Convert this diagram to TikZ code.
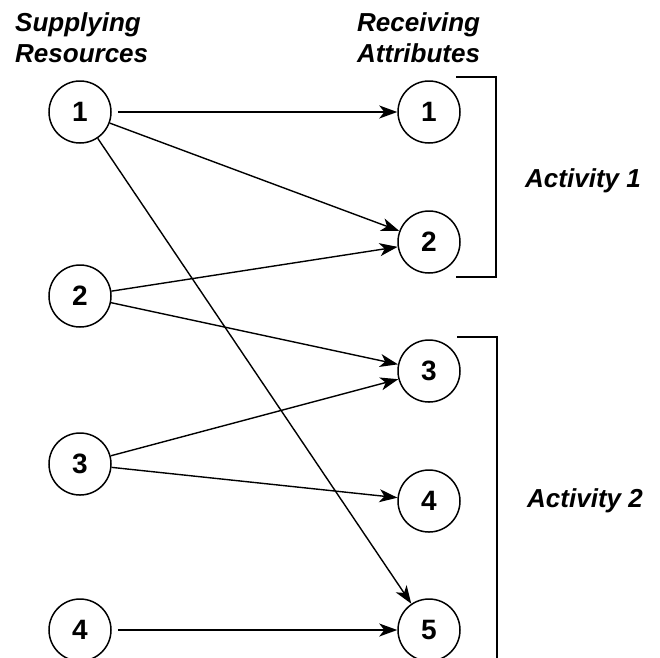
\documentclass[tikz,border=0pt]{standalone}
\usepackage{fontspec}
\setmainfont{Liberation Sans}
\usetikzlibrary{arrows.meta}
\begin{document}
\begin{tikzpicture}[x=1pt,y=-1pt,
  head/.style={font=\fontsize{26}{31}\selectfont\bfseries\itshape,inner sep=0pt},
  res/.style={circle,draw,line width=1.5pt,minimum size=62pt,inner sep=0pt,
    font=\fontsize{28}{32}\selectfont\bfseries},
  arr/.style={line width=1.4pt,-{Stealth[length=18pt,width=13pt,inset=5pt]}},
  brk/.style={line width=1.5pt}]
\useasboundingbox (0,0) rectangle (660,657);
\clip (0,0) rectangle (660,657);

% column headings
\node[head,anchor=base west] (sup) at (15,31) {Supplying};
\node[head,anchor=base west] (res) at (15,62) {Resources};
\node[head,anchor=base west] (rec) at (357,31) {Receiving};
\node[head,anchor=base west] (att) at (357,62) {Attributes};

% supplying resources
\node[res] (l1) at (80,112) {1};
\node[res] (l2) at (80,296) {2};
\node[res] (l3) at (80,464) {3};
\node[res] (l4) at (80,630) {4};

% receiving attributes
\node[res] (r1) at (429,112) {1};
\node[res] (r2) at (429,242) {2};
\node[res] (r3) at (429,371) {3};
\node[res] (r4) at (429,501) {4};
\node[res] (r5) at (429,630) {5};

% connections
\draw[arr,shorten <=6pt] (l1) -- (r1);
\draw[arr] (l1) -- (r2);
\draw[arr] (l1) -- (r5);
\draw[arr] (l2) -- (r2);
\draw[arr] (l2) -- (r3);
\draw[arr] (l3) -- (r3);
\draw[arr] (l3) -- (r4);
\draw[arr,shorten <=6pt] (l4) -- (r5);

% activity brackets
\coordinate (a1t) at (456,77);
\coordinate (a1b) at (456,277);
\draw[brk] (a1t) -- (496,77) -- (496,277) -- (a1b);
\node[head,anchor=base west] (act1) at (525,187) {Activity 1};

\coordinate (a2t) at (457,337);
\coordinate (a2b) at (497,670);
\draw[brk] (a2t) -- (497,337) -- (a2b);
\node[head,anchor=base west] (act2) at (527,507) {Activity 2};
\end{tikzpicture}
\end{document}
